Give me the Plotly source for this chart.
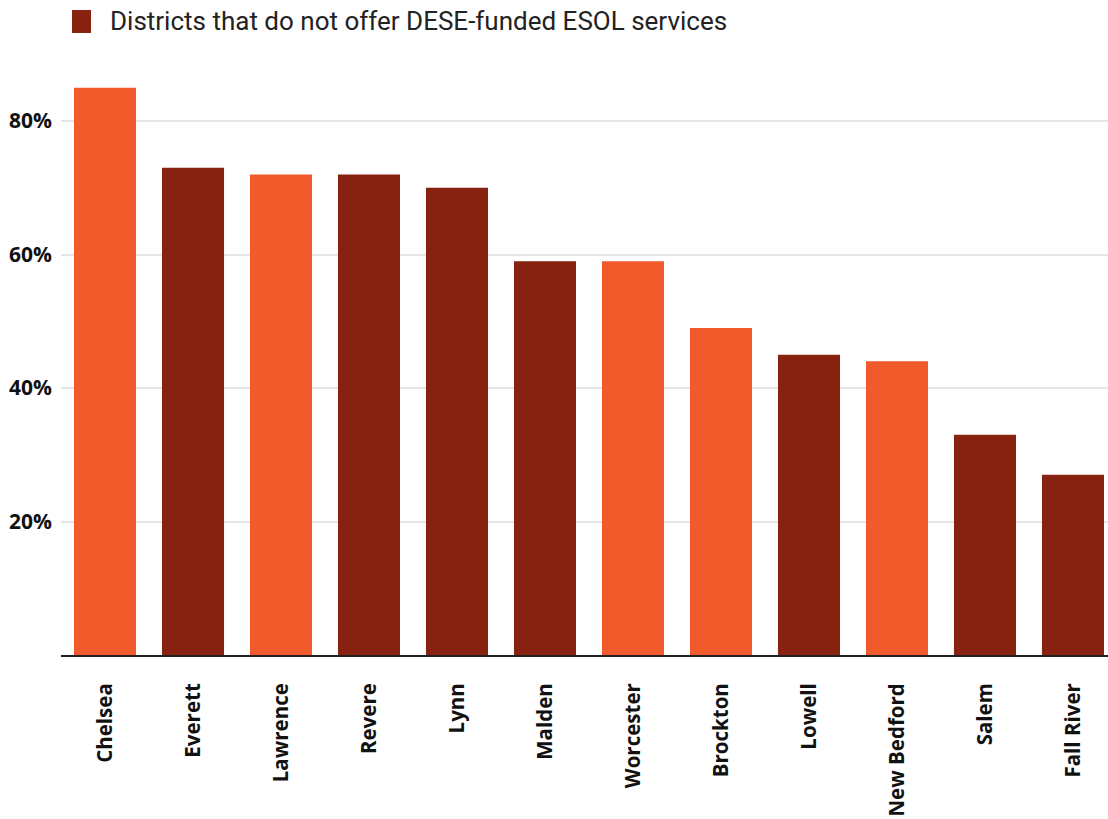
import plotly.graph_objects as go

districts = ["Chelsea", "Everett", "Lawrence", "Revere", "Lynn", "Malden", "Worcester",
             "Brockton", "Lowell", "New Bedford", "Salem", "Fall River"]
values = [85, 73, 72, 72, 70, 59, 59, 49, 45, 44, 33, 27]
offers_dese_esol = [True, False, True, False, False, False, True, True, False, True, False, False]
y_ticks = [20, 40, 60, 80]
y_tick_labels = ["20%", "40%", "60%", "80%"]
legend_label = "Districts that do not offer DESE-funded ESOL services"

ORANGE = "#F15A2B"
DARK = "#86220F"
colors = [ORANGE if o else DARK for o in offers_dese_esol]

W, H = 1108, 819
ml, mr, mt, mb = 61, 0, 80, 164

fig = go.Figure()
fig.add_trace(go.Bar(
    x=districts, y=values, marker=dict(color=colors, line=dict(width=0)),
    showlegend=False, hoverinfo="x+y",
))

fig.update_layout(
    width=W, height=H,
    margin=dict(l=ml, r=mr, t=mt, b=mb, pad=0, autoexpand=False),
    plot_bgcolor="white", paper_bgcolor="white",
    bargap=0.295,
    showlegend=False,
    font=dict(family="Open Sans", color="#222222"),
)
fig.update_xaxes(
    range=[-0.5, 11.398], automargin=False,
    tickangle=-90,
    tickfont=dict(family="Open Sans", size=20.5, color="#111111", weight=700),
    showline=True, linecolor="#222222", linewidth=2,
    showgrid=False, ticks="", ticklabelstandoff=18,
)
fig.update_yaxes(
    range=[0, (655 - mt) / 6.675], automargin=False,
    tickvals=y_ticks, ticktext=y_tick_labels,
    tickfont=dict(family="Open Sans", size=21, color="#111111", weight=700),
    showgrid=True, gridcolor="#e6e6e6", gridwidth=2,
    zeroline=False, showline=False, ticks="", ticklabelstandoff=8,
)

# legend drawn as swatch + text
fig.add_shape(type="rect", xref="paper", yref="paper",
              x0=(72 - ml) / (W - ml - mr), x1=(91 - ml) / (W - ml - mr),
              y0=1 + (mt - 33) / (H - mt - mb), y1=1 + (mt - 10) / (H - mt - mb),
              fillcolor=DARK, line=dict(width=0))
fig.add_annotation(text=legend_label, xref="paper", yref="paper",
                   x=(108 - ml) / (W - ml - mr), y=1 + (mt - 21) / (H - mt - mb),
                   xanchor="left", yanchor="middle", showarrow=False,
                   font=dict(family="Roboto", size=26, color="#222222"))

fig.write_html("out.html")
